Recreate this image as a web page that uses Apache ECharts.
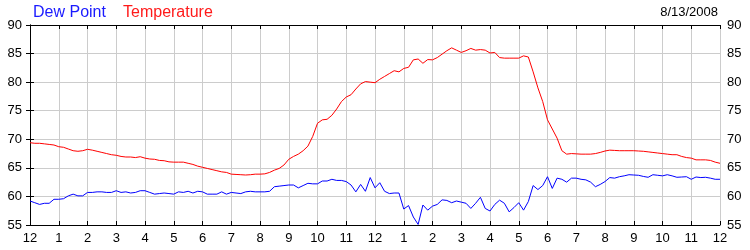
<!DOCTYPE html>
<html><head><meta charset="utf-8">
<script src="https://cdn.jsdelivr.net/npm/echarts@6/dist/echarts.min.js"></script>
<style>html,body{margin:0;padding:0;background:#fff}#c{width:750px;height:250px}</style>
</head><body><div id="c"></div>
<script>
// samples every 10 minutes from midnight to midnight
const stepMinutes = 10;
const hourTicks = [12,1,2,3,4,5,6,7,8,9,10,11,12,1,2,3,4,5,6,7,8,9,10,11,12];
const yTicks = [55,60,65,70,75,80,85,90];
const titleDew = 'Dew Point';
const titleTemp = 'Temperature';
const dateLabel = '8/13/2008';

const temperature = [
 69.4,69.3,69.3,69.2,69.1,69.0,
 68.7,68.6,68.3,68.0,67.9,68.0,
 68.25,68.1,67.9,67.7,67.5,67.3,
 67.2,67.0,66.9,66.9,66.8,66.95,
 66.7,66.55,66.5,66.3,66.25,66.05,
 66.0,66.0,66.0,65.8,65.6,65.3,
 65.1,64.9,64.7,64.5,64.3,64.2,
 63.9,63.85,63.8,63.75,63.8,63.9,
 63.9,63.95,64.2,64.6,64.9,65.5,
 66.5,67.0,67.4,68.0,68.8,70.5,
 72.8,73.4,73.5,74.2,75.3,76.6,
 77.4,77.8,78.8,79.7,80.1,80.0,
 79.9,80.5,81.0,81.5,82.0,81.8,
 82.4,82.6,83.9,84.05,83.3,83.95,
 83.9,84.3,84.9,85.5,86.0,85.6,
 85.2,85.5,85.9,85.6,85.7,85.6,
 85.1,85.2,84.3,84.2,84.2,84.2,
 84.2,84.6,84.4,81.8,79.0,76.6,
 73.4,71.8,70.2,68.0,67.4,67.5,
 67.45,67.4,67.4,67.4,67.5,67.7,
 67.95,68.1,68.05,68.0,68.0,68.0,
 68.0,67.95,67.9,67.8,67.7,67.6,
 67.5,67.4,67.3,67.3,67.0,66.8,
 66.7,66.4,66.4,66.4,66.3,66.0,
 65.8
];
const dewPoint = [
 59.2,58.9,58.6,58.8,58.8,59.5,
 59.5,59.6,60.1,60.4,60.1,60.1,
 60.7,60.7,60.8,60.8,60.7,60.7,
 61.0,60.7,60.8,60.6,60.7,61.0,
 61.0,60.7,60.4,60.5,60.6,60.5,
 60.4,60.8,60.7,60.9,60.6,60.9,
 60.8,60.4,60.4,60.4,60.8,60.4,
 60.7,60.6,60.5,60.8,60.9,60.8,
 60.8,60.8,60.9,61.7,61.8,61.9,
 62.0,62.0,61.5,61.9,62.3,62.2,
 62.2,62.7,62.7,63.0,62.8,62.8,
 62.6,62.0,60.8,62.1,60.9,63.3,
 61.5,62.4,60.9,60.5,60.6,60.6,
 57.8,58.4,56.4,55.1,58.5,57.6,
 58.3,58.6,59.4,59.3,58.9,59.2,
 59.0,58.8,57.9,58.8,59.85,57.9,
 57.45,58.6,59.35,58.8,57.3,58.05,
 58.9,57.6,59.1,61.9,61.2,61.9,
 63.45,61.4,63.2,63.0,62.5,63.2,
 63.2,63.0,62.9,62.5,61.7,62.1,
 62.6,63.3,63.2,63.45,63.6,63.8,
 63.75,63.7,63.5,63.35,63.8,63.7,
 63.6,63.8,63.6,63.35,63.4,63.45,
 63.0,63.4,63.3,63.35,63.2,63.0,
 63.0
];

const toPairs = arr => arr.map((v, i) => [i * stepMinutes / 60, v]);
const FONT = '"Liberation Sans", Arial, sans-serif';

const yBase = {
  type: 'value', min: yTicks[0], max: yTicks[yTicks.length - 1], interval: 5,
  axisLine: { show: true, lineStyle: { color: '#000', width: 1 } },
  axisTick: { show: true, inside: true, length: 4, lineStyle: { color: '#000' } },
  axisLabel: { color: '#000', fontSize: 13, fontFamily: FONT },
};
const xBase = {
  type: 'value', min: 0, max: 24, interval: 1,
  axisLine: { show: true, onZero: false, lineStyle: { color: '#000', width: 1 } },
  axisTick: { show: true, inside: true, length: 4, lineStyle: { color: '#000' } },
};

const chart = echarts.init(document.getElementById('c'), null, { renderer: 'canvas' });
chart.setOption({
  animation: false,
  backgroundColor: '#fff',
  textStyle: { fontFamily: FONT },
  title: [
    { text: titleDew, left: 33, top: 5, padding: 0, textStyle: { color: '#1a1aff', fontSize: 16, fontWeight: 'normal', fontFamily: FONT } },
    { text: titleTemp, left: 123, top: 5, padding: 0, textStyle: { color: '#ff1a1a', fontSize: 16, fontWeight: 'normal', fontFamily: FONT } },
    { text: dateLabel, right: 32, top: 6, padding: 0, textStyle: { color: '#000', fontSize: 13, fontWeight: 'normal', fontFamily: FONT } }
  ],
  grid: { left: 30, right: 30, top: 25, bottom: 25, containLabel: false },
  xAxis: [
    Object.assign({}, xBase, {
      position: 'bottom',
      splitLine: { show: true, lineStyle: { color: '#cccccc', width: 1 } },
      axisLabel: { color: '#000', fontSize: 13, fontFamily: FONT, margin: 7,
        formatter: v => String(hourTicks[Math.round(v)]) }
    }),
    Object.assign({}, xBase, {
      position: 'top',
      splitLine: { show: false },
      axisLabel: { show: false }
    })
  ],
  yAxis: [
    Object.assign({}, yBase, { position: 'left',
      splitLine: { show: true, lineStyle: { color: '#cccccc', width: 1 } },
      axisLabel: Object.assign({}, yBase.axisLabel, { margin: 8 }) }),
    Object.assign({}, yBase, { position: 'right', splitLine: { show: false },
      axisLabel: Object.assign({}, yBase.axisLabel, { margin: 7 }) })
  ],
  series: [
    { name: titleTemp, type: 'line', xAxisIndex: 0, yAxisIndex: 0, data: toPairs(temperature),
      showSymbol: false, symbol: 'none', lineStyle: { color: '#ff0000', width: 1 } },
    { name: titleDew, type: 'line', xAxisIndex: 0, yAxisIndex: 0, data: toPairs(dewPoint),
      showSymbol: false, symbol: 'none', lineStyle: { color: '#0000ff', width: 1 } }
  ]
});
</script></body></html>
